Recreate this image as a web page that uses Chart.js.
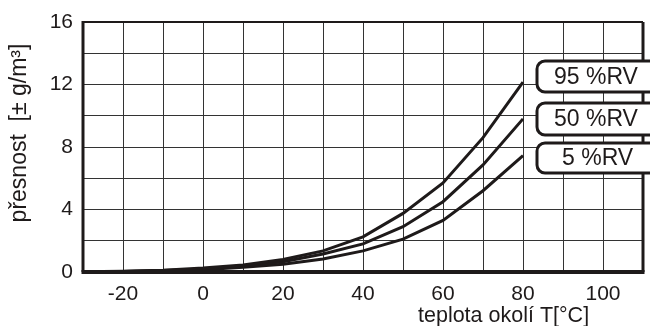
<!DOCTYPE html>
<html>
<head>
<meta charset="utf-8">
<script src="https://cdn.jsdelivr.net/npm/chart.js@4"></script>
<style>
  html, body { margin: 0; padding: 0; background: #fff; }
  #wrap { width: 650px; height: 326px; }
</style>
</head>
<body>
<div id="wrap"><canvas id="myChart" width="650" height="326"></canvas></div>
<script>
// data
var temps = [-30, -20, -10, 0, 10, 20, 30, 40, 50, 60, 70, 80];
var rh95 = [0.02, 0.05, 0.12, 0.25, 0.45, 0.8, 1.35, 2.25, 3.75, 5.7, 8.6, 12.15];
var rh50 = [0.02, 0.04, 0.09, 0.2, 0.38, 0.65, 1.15, 1.8, 2.9, 4.5, 6.85, 9.8];
var rh5 = [0.01, 0.03, 0.07, 0.15, 0.3, 0.5, 0.83, 1.35, 2.1, 3.3, 5.2, 7.45];
var seriesLabels = ['95 %RV', '50 %RV', '5 %RV'];
var xTicks = [-20, 0, 20, 40, 60, 80, 100];
var yTicks = [0, 4, 8, 12, 16];

var ink = '#1e1a1a';
var font = 'Liberation Sans, Arial, sans-serif';

function pts(vals) {
    return temps.map(function (t, i) { return { x: t, y: vals[i] }; });
}

// frame, axis titles and the label boxes
var decor = {
    id: 'decor',
    afterDatasetsDraw: function (chart) {
        var c = chart.ctx, a = chart.chartArea;
        c.save();
        c.strokeStyle = ink;
        c.lineWidth = 2;
        c.beginPath(); c.moveTo(a.left, a.top); c.lineTo(a.right, a.top); c.stroke();
        c.lineWidth = 3;
        c.beginPath(); c.moveTo(a.right, a.top); c.lineTo(a.right, a.bottom); c.stroke();
        c.beginPath(); c.moveTo(a.left, a.top - 1); c.lineTo(a.left, a.bottom); c.stroke();
        c.lineWidth = 4;
        c.beginPath(); c.moveTo(a.left - 1.5, a.bottom); c.lineTo(a.right + 1.5, a.bottom); c.stroke();

        // label boxes
        var boxes = [[61, 92], [103, 135], [143, 173]];
        c.font = '23px ' + font;
        c.textBaseline = 'middle';
        c.textAlign = 'left';
        boxes.forEach(function (b, i) {
            c.beginPath();
            c.roundRect(537, b[0], 130, b[1] - b[0], 8);
            c.fillStyle = '#fff';
            c.fill();
            c.lineWidth = 3;
            c.strokeStyle = ink;
            c.stroke();
            c.fillStyle = ink;
            var tx = i == 2 ? 562 : 554;
            c.fillText(seriesLabels[i], tx, (b[0] + b[1]) / 2 + 1);
        });

        // axis titles
        c.fillStyle = ink;
        c.font = '21.5px ' + font;
        c.textAlign = 'left';
        c.textBaseline = 'alphabetic';
        c.fillText('teplota okolí T[°C]', 418, 322);

        c.translate(26, 133);
        c.rotate(-Math.PI / 2);
        c.font = '23px ' + font;
        c.textAlign = 'center';
        c.fillText('přesnost  [± g/m³]', 0, 0);
        c.restore();
    }
};

var ctx = document.getElementById('myChart').getContext('2d');
var myChart = new Chart(ctx, {
    type: 'line',
    data: {
        datasets: [rh95, rh50, rh5].map(function (v, i) {
            return {
                label: seriesLabels[i],
                data: pts(v),
                borderColor: ink,
                borderWidth: 3,
                pointRadius: 0,
                tension: 0,
                fill: false
            };
        })
    },
    options: {
        responsive: false,
        animation: false,
        layout: { padding: { top: 22, right: 7, left: 0, bottom: 0 } },
        plugins: { legend: { display: false }, tooltip: { enabled: false } },
        scales: {
            x: {
                type: 'linear',
                min: -30,
                max: 110,
                afterFit: function (s) { s.height = 54; s.paddingLeft = 0; s.paddingRight = 0; },
                border: { display: false },
                grid: { color: '#333', lineWidth: 1, borderDash: [2, 2], drawTicks: false },
                ticks: {
                    stepSize: 10,
                    padding: 10,
                    maxRotation: 0,
                    color: ink,
                    font: { family: font, size: 21 },
                    callback: function (v) { return xTicks.indexOf(v) >= 0 ? String(v) : ''; }
                }
            },
            y: {
                min: 0,
                max: 16,
                afterFit: function (s) { s.width = 83; s.paddingTop = 0; s.paddingBottom = 0; },
                border: { display: false },
                grid: { color: '#333', lineWidth: 1, borderDash: [2, 2], drawTicks: false },
                ticks: {
                    stepSize: 2,
                    padding: 10,
                    color: ink,
                    font: { family: font, size: 21 },
                    callback: function (v) { return yTicks.indexOf(v) >= 0 ? String(v) : ''; }
                }
            }
        }
    },
    plugins: [decor]
});
</script>
</body>
</html>
